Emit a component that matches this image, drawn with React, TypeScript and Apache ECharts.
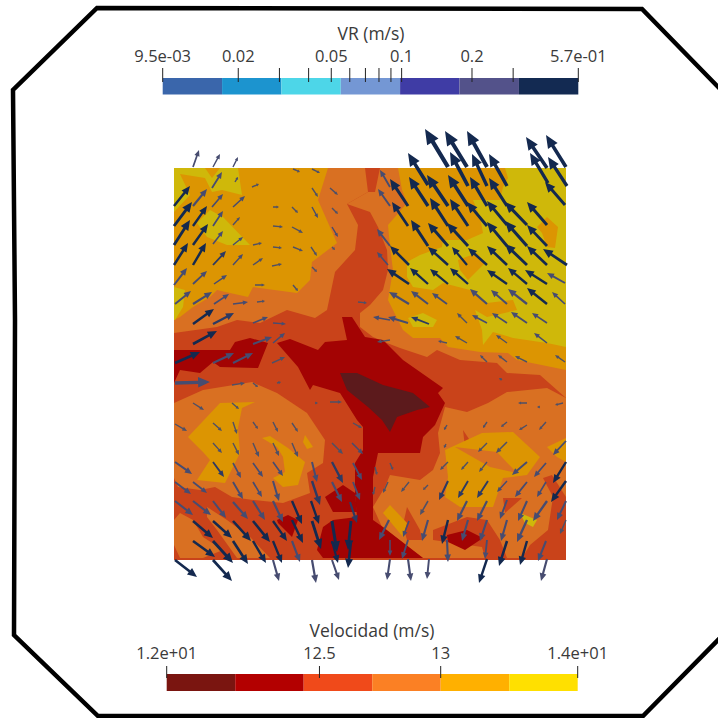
import React, { useEffect, useRef } from "react";
import * as echarts from "echarts";

const FONT = "Open Sans";
const TEXT = "#3a3a3a";

// contour level colours as they look on the plotted field
const levelColors = ["#5c1a1c", "#a30303", "#c9431a", "#d97022", "#dc9502", "#cfb80a"];

// contour regions of the velocity field, painted in order: [level, x,y, x,y, ...]
const contourRegions: number[][] = [
  [2, 174,168, 566,168, 566,560, 174,560],
  // upper left orange
  [3, 174,168, 365,168, 368,192, 347,204, 358,225, 355,250, 335,272, 327,310, 315,318, 287,310, 260,323, 237,320, 217,327, 174,333],
  // upper right orange
  [3, 380,168, 566,168, 566,398, 540,375, 507,373, 497,363, 460,360, 437,350, 427,357, 400,348, 387,343, 373,337, 360,327, 360,313, 370,305, 383,290, 388,270, 387,250, 378,227, 370,212, 347,204, 368,192, 375,192],
  // lower left dome
  [3, 174,403, 203,390, 252,382, 277,393, 307,413, 325,440, 323,463, 307,473, 310,493, 283,503, 253,500, 232,497, 215,487, 200,490, 178,487, 174,478],
  [3, 174,520, 180,513, 193,520, 203,537, 223,550, 203,558, 180,558, 174,545],
  [3, 207,507, 227,520, 250,537, 270,558, 237,558, 217,530, 207,517],
  // lower right dome
  [3, 445,407, 467,412, 488,403, 507,392, 547,388, 566,398, 566,497, 553,497, 548,530, 530,545, 522,558, 423,558, 382,527, 373,507, 385,487, 390,475, 420,480, 433,470, 440,453, 438,433],
  [2, 407,507, 420,530, 422,540, 407,540, 403,525],
  [2, 433,530, 467,517, 487,520, 500,540, 507,558, 485,558, 482,547, 433,540],
  [2, 463,430, 473,445, 465,447],
  [2, 503,498, 522,498, 505,513],
  [2, 543,478, 552,475, 566,497, 553,497],
  // amber
  [4, 174,168, 328,168, 318,200, 337,243, 312,262, 310,280, 297,293, 253,287, 248,297, 230,293, 217,290, 210,297, 193,307, 180,317, 174,320],
  [4, 398,168, 566,168, 566,370, 517,360, 508,353, 480,352, 448,347, 440,338, 413,338, 403,330, 393,310, 388,300, 393,270, 390,247, 388,225, 407,203, 402,190],
  [4, 188,437, 220,403, 255,402, 242,408, 238,428, 240,453, 225,483, 197,480, 210,460, 203,452],
  [4, 262,438, 270,436, 288,448, 305,462, 298,485, 283,487, 273,478, 285,472, 283,457, 277,447],
  [4, 305,435, 313,447, 307,449, 303,442],
  [4, 445,450, 482,433, 513,432, 540,457, 527,475, 503,478, 493,507, 473,507, 460,507, 445,497, 448,477],
  [3, 455,447, 497,452, 517,473, 490,467],
  [4, 547,447, 566,438, 566,462, 557,457],
  [4, 390,505, 383,513, 403,537, 407,523],
  // yellow
  [5, 174,168, 205,168, 212,178, 220,168, 238,168, 242,195, 222,190, 212,192, 205,178, 180,174, 190,195, 174,212],
  [5, 197,223, 210,210, 223,217, 250,245, 227,245, 207,237],
  [5, 174,287, 185,290, 183,307, 175,320, 174,320],
  [5, 505,168, 508,178, 503,187, 500,200, 473,200, 480,217, 483,233, 467,240, 443,240, 442,247, 420,255, 407,262, 407,277, 413,287, 433,290, 443,283, 470,290, 487,303, 513,300, 517,310, 487,317, 475,310, 482,330, 483,345, 493,332, 513,338, 547,343, 566,347, 566,168],
  [5, 408,318, 423,313, 437,320, 433,327, 413,327],
  [5, 520,513, 537,520, 533,527, 525,523],
  // amber islands on yellow
  [4, 537,227, 547,217, 558,227, 555,248, 547,247, 542,233],
  [4, 458,260, 477,253, 485,263, 468,280, 460,270],
  // red
  [1, 174,350, 230,350, 235,342, 250,338, 268,343, 258,368, 220,367, 213,362, 200,373, 180,370, 174,383],
  [1, 277,343, 290,339, 318,350, 325,342, 347,340, 342,317, 352,317, 365,337, 383,340, 403,360, 443,388, 438,393, 445,403, 435,425, 423,437, 420,453, 378,453, 373,477, 373,520, 383,527, 423,558, 323,558, 317,550, 323,527, 333,520, 357,517, 355,495, 355,463, 363,450, 363,427, 357,420, 340,393, 313,385, 310,390, 298,367],
  [1, 343,485, 355,493, 357,512, 333,512, 325,497],
  [1, 277,520, 288,515, 298,520, 292,537, 278,523],
  [1, 447,535, 467,530, 483,538, 465,550, 448,542],
  // darkest core
  [0, 340,373, 357,373, 383,385, 413,393, 430,407, 417,410, 397,417, 390,432, 382,420, 368,407, 347,390],
];

// arrows: tail x, tail y, head x, head y, VR (m/s)
const arrowsUpperLeft: number[][] = [
  [193,167,199,150,.1],[213,167,220,154,.1],[233,167,238,157,.1],[293,169,300,172,.05],[312,169,320,173,.05],
  [212,188,222,172,.15],[235,182,238,177,.05],[174,206,190,186,.3],[193,206,207,189,.15],[212,207,223,194,.15],
  [233,207,245,196,.15],[252,187,259,184,.03],[312,188,318,197,.06],[330,188,338,195,.06],[174,226,192,202,.35],
  [193,226,207,206,.3],[213,226,223,211,.15],[233,225,240,217,.08],[273,207,279,207,.03],[292,207,298,213,.03],
  [312,207,318,218,.1],[332,208,338,214,.04],[174,245,190,220,.35],[193,245,208,224,.3],[213,244,223,231,.12],
  [233,245,243,237,.1],[273,226,283,227,.06],[292,227,303,233,.08],[332,227,338,237,.1],[174,265,188,243,.3],
  [193,265,206,243,.3],[213,265,226,251,.2],[233,265,243,254,.1],[253,245,262,243,.05],[273,247,282,248,.06],
  [293,247,303,251,.07],[311,247,317,256,.08],[332,247,335,250,.03],[174,285,187,268,.15],[193,284,207,271,.15],
  [214,284,227,275,.13],[253,265,263,258,.08],[272,266,282,264,.05],[312,267,317,272,.04],[175,304,191,291,.13],
  [193,304,212,292,.15],[214,304,229,294,.13],[255,285,265,285,.05],[293,285,298,291,.04],[193,324,214,309,.3],
  [213,324,234,313,.17],[233,304,248,302,.12],[257,302,265,301,.07],[358,302,367,303,.08],[193,344,217,331,.3],
  [253,323,268,317,.13],[273,323,286,324,.1],[253,344,272,337,.13],[273,343,285,333,.13],
];
const arrowsUpperRight: number[][] = [
  [448,167,425,129,.55],[467,167,445,131,.55],[487,167,467,131,.55],[547,168,526,137,.5],[566,167,546,135,.5],
  [428,185,408,153,.5],[468,186,450,152,.5],[487,186,472,154,.5],[507,186,489,154,.5],[548,183,530,153,.45],
  [567,186,548,157,.45],[408,206,390,179,.4],[428,206,409,177,.4],[448,206,427,175,.45],[468,206,448,175,.45],
  [487,206,470,177,.45],[507,206,489,178,.45],[565,205,545,182,.4],[390,187,380,170,.1],[390,206,378,189,.1],
  [408,226,392,202,.35],[448,226,430,198,.4],[468,226,450,199,.4],[487,226,467,202,.4],[507,225,487,201,.4],
  [527,225,505,202,.4],[547,225,527,202,.4],[390,246,377,229,.13],[428,246,411,220,.4],[448,246,428,223,.4],
  [468,246,447,223,.4],[507,246,487,222,.4],[527,246,505,221,.4],[547,246,527,225,.4],[388,265,377,252,.13],
  [409,265,390,246,.35],[448,265,428,247,.35],[467,265,452,247,.3],[487,265,468,248,.35],[507,265,487,246,.35],
  [527,265,505,244,.4],[547,265,527,246,.4],[567,265,543,249,.4],[409,284,387,269,.35],[428,284,410,268,.35],
  [448,284,430,269,.3],[468,284,450,268,.3],[507,284,487,270,.3],[527,284,508,268,.3],[547,284,525,270,.3],
  [565,283,547,273,.15],[409,304,389,292,.15],[428,304,411,291,.15],[447,304,432,293,.15],[487,304,470,289,.15],
  [507,304,491,290,.15],[527,304,508,289,.15],[547,304,527,288,.3],[565,304,552,292,.15],[390,320,373,317,.1],
  [408,323,388,317,.15],[429,324,411,317,.2],[467,323,457,313,.08],[487,323,472,315,.13],[507,323,492,313,.13],
  [527,323,511,312,.13],[547,323,532,313,.13],[390,340,377,342,.08],[447,343,438,341,.04],[467,343,455,336,.08],
  [507,343,496,335,.08],[547,343,534,333,.1],
];
const arrowsLowerRight: number[][] = [
  [487,362,480,355,.06],[507,362,498,355,.07],[527,362,515,356,.07],[565,362,555,355,.08],[502,380,499,378,.03],
  [527,403,518,403,.04],[540,407,537,407,.03],[563,403,555,405,.05],[487,422,483,428,.04],[507,422,501,427,.05],
  [527,425,519,430,.05],[546,422,539,430,.06],[447,425,444,430,.04],[446,444,444,448,.03],[487,443,478,452,.08],
  [507,442,496,453,.08],[566,441,553,455,.12],[448,462,440,470,.08],[468,462,461,470,.08],[487,462,479,472,.08],
  [527,462,512,475,.13],[546,463,534,477,.13],[566,462,553,483,.3],[375,467,377,475,.06],[390,463,393,470,.05],
  [409,482,401,492,.06],[428,485,423,490,.04],[448,481,439,500,.2],[468,481,458,498,.17],[488,481,477,498,.17],
  [507,481,497,492,.13],[527,482,515,497,.13],[546,482,537,497,.13],[566,481,551,502,.3],[388,482,383,493,.08],
  [375,487,373,495,.06],[428,501,420,515,.08],[467,501,457,521,.13],[487,501,477,521,.13],[507,500,500,519,.1],
  [527,501,518,521,.13],[547,501,533,521,.13],[566,501,557,520,.1],[389,520,379,540,.15],[409,521,403,537,.1],
  [428,520,422,541,.1],[448,520,442,544,.3],[468,520,462,541,.12],[487,520,480,541,.13],[507,520,501,541,.12],
  [527,520,517,542,.13],[566,520,560,534,.08],[390,540,390,556,.1],[408,540,402,559,.1],[447,540,448,562,.15],
  [487,540,485,559,.12],[507,541,499,566,.35],[527,541,520,565,.35],[546,541,538,561,.13],[390,559,387,580,.12],
  [408,559,411,581,.12],[429,559,427,579,.12],[487,559,479,583,.3],[547,559,541,581,.13],
];
const arrowsLowerLeft: number[][] = [
  [175,363,200,352,.3],[213,363,234,353,.15],[233,363,253,353,.13],[272,363,285,357,.08],[175,383,210,382,.13],
  [232,385,245,383,.05],[277,383,281,382,.03],[253,383,258,387,.03],[193,403,204,410,.07],[232,403,239,409,.06],
  [330,402,342,402,.05],[315,403,318,403,.03],[175,424,187,431,.07],[213,423,222,431,.07],[233,422,237,434,.07],
  [253,422,258,429,.05],[273,422,278,432,.05],[292,423,298,432,.06],[353,423,362,428,.06],[213,443,222,453,.08],
  [233,443,239,455,.08],[253,443,259,457,.08],[273,443,279,456,.08],[292,443,298,457,.08],[332,443,343,454,.08],
  [352,443,363,454,.1],[175,462,192,474,.1],[213,462,224,477,.17],[233,463,241,478,.1],[253,463,263,477,.1],
  [273,462,283,476,.1],[312,462,317,482,.1],[332,462,343,483,.2],[353,463,362,480,.1],[175,482,191,494,.1],
  [193,482,207,493,.1],[233,482,243,499,.12],[253,482,262,497,.1],[273,481,279,501,.12],[312,481,320,505,.2],
  [332,482,342,502,.12],[353,482,360,500,.1],[175,501,193,515,.12],[193,501,211,515,.12],[213,501,226,518,.13],
  [233,502,248,519,.13],[253,501,265,520,.13],[273,501,283,522,.13],[292,501,302,524,.3],[311,501,319,524,.3],
  [350,502,357,523,.25],[193,521,213,538,.3],[213,521,232,538,.3],[233,521,251,541,.3],[253,521,270,542,.3],
  [273,521,287,541,.3],[292,520,303,543,.3],[312,521,321,549,.35],[332,521,337,552,.4],[351,521,348,550,.35],
  [193,541,215,557,.3],[213,541,233,563,.35],[233,541,248,564,.35],[253,541,266,563,.35],[273,541,282,563,.35],
  [292,541,300,562,.13],[332,541,338,563,.3],[351,541,348,568,.4],[175,560,197,577,.3],[213,560,232,581,.35],
  [273,560,279,581,.13],[312,560,316,583,.13],[332,560,339,580,.13],
];
const arrows = [...arrowsUpperLeft, ...arrowsUpperRight, ...arrowsLowerRight, ...arrowsLowerLeft];

// VR colour bar
const vrBreaks = [0.0095, 0.01705, 0.0306, 0.0549, 0.0985, 0.1768, 0.3176, 0.57];
const vrColors = ["#3a66ab", "#1c94cf", "#4dd6e8", "#7497d4", "#3f3ca5", "#53528a", "#132a52"];
const vrTicks = [0.0095, 0.02, 0.03, 0.04, 0.05, 0.06, 0.07, 0.08, 0.09, 0.1, 0.2, 0.3, 0.57];
const vrLabelValues = [0.0095, 0.02, 0.05, 0.1, 0.2, 0.57];
const vrLabelTexts = ["9.5e-03", "0.02", "0.05", "0.1", "0.2", "5.7e-01"];

// Velocidad colour bar
const velBreaks = [11.87, 12.1525, 12.435, 12.7175, 13.0, 13.2825, 13.565];
const velColors = ["#7a1510", "#b30000", "#f04a1a", "#fb8024", "#ffb000", "#ffe000"];
const velTicks = [11.87, 12.5, 13, 13.565];
const velLabelTexts = ["1.2e+01", "12.5", "13", "1.4e+01"];

function nearestLabel(v: number, values: number[], texts: string[]) {
  let best = 0;
  values.forEach((c, i) => {
    if (Math.abs(Math.log(c / v)) < Math.abs(Math.log(values[best] / v))) best = i;
  });
  return texts[best];
}

function arrowColor(v: number) {
  if (v >= 0.28) return "#14294f";
  if (v >= 0.16) return "#2d3a62";
  if (v >= 0.1) return "#474c70";
  return "#4f5066";
}

function renderContour(params: any, api: any) {
  const region = contourRegions[params.dataIndex];
  const pts: number[][] = [];
  for (let i = 1; i < region.length; i += 2) pts.push(api.coord([region[i], region[i + 1]]));
  return { type: "polygon", shape: { points: pts }, style: { fill: levelColors[region[0]] } };
}

function renderArrow(params: any, api: any) {
  const a = api.coord([api.value(0), api.value(1)]);
  const b = api.coord([api.value(2), api.value(3)]);
  const v = api.value(4);
  const dx = b[0] - a[0];
  const dy = b[1] - a[1];
  const len = Math.hypot(dx, dy) || 1;
  const ux = dx / len;
  const uy = dy / len;
  const nx = -uy;
  const ny = ux;
  const shaft = Math.max(0.7, len * 0.048);
  const headW = Math.max(1.6, len * 0.15);
  const headL = Math.max(2.5, len * 0.34);
  const nk = [a[0] + ux * (len - headL), a[1] + uy * (len - headL)];
  const points = [
    [a[0] + nx * shaft, a[1] + ny * shaft],
    [nk[0] + nx * shaft, nk[1] + ny * shaft],
    [nk[0] + nx * headW, nk[1] + ny * headW],
    b,
    [nk[0] - nx * headW, nk[1] - ny * headW],
    [nk[0] - nx * shaft, nk[1] - ny * shaft],
    [a[0] - nx * shaft, a[1] - ny * shaft],
  ];
  return { type: "polygon", shape: { points }, style: { fill: arrowColor(v) } };
}

function renderBarSegment(colors: string[]) {
  return (params: any, api: any) => {
    const p0 = api.coord([api.value(0), 0]);
    const p1 = api.coord([api.value(1), 1]);
    return {
      type: "rect",
      shape: { x: p0[0], y: p1[1], width: p1[0] - p0[0], height: p0[1] - p1[1] },
      style: { fill: colors[params.dataIndex] },
    };
  };
}

function renderBarTick(up: number, down: number) {
  return (params: any, api: any) => {
    const p = api.coord([api.value(0), 1]);
    return {
      type: "line",
      shape: { x1: p[0], y1: p[1] - up, x2: p[0], y2: p[1] + down },
      style: { stroke: "#222222", lineWidth: 1 },
    };
  };
}

export default function App() {
  const ref = useRef<HTMLDivElement>(null);
  useEffect(() => {
    const chart = echarts.init(ref.current!, null, { renderer: "svg" });
    const labelStyle = { fontFamily: FONT, fontSize: 16.5, color: TEXT };
    const titleStyle = { fontFamily: FONT, fontSize: 17.5, color: TEXT, fontWeight: "normal" };
    chart.setOption({
      animation: false,
      backgroundColor: "#ffffff",
      title: [
        { text: "VR (m/s)", left: 371, top: 24, textAlign: "center", padding: 0, textStyle: titleStyle },
        { text: "Velocidad (m/s)", left: 372, top: 621, textAlign: "center", padding: 0, textStyle: titleStyle },
      ],
      grid: [
        { left: 174, top: 168, width: 392, height: 392 },
        { left: 162.7, top: 78, width: 415.6, height: 16.4 },
        { left: 166.7, top: 674, width: 411, height: 17 },
      ],
      xAxis: [
        { gridIndex: 0, type: "value", min: 174, max: 566, show: false },
        {
          gridIndex: 1, type: "log", min: 0.0095, max: 0.57, position: "top",
          splitLine: { show: false }, axisLine: { show: false }, minorTick: { show: false },
          axisTick: { show: false },
          axisLabel: {
            show: true, margin: 14, customValues: vrLabelValues, ...labelStyle, hideOverlap: false,
            showMinLabel: true, showMaxLabel: true,
            formatter: (v: number) => nearestLabel(v, vrLabelValues, vrLabelTexts),
          },
        },
        {
          gridIndex: 2, type: "value", min: 11.87, max: 13.565, position: "top",
          splitLine: { show: false }, axisLine: { show: false },
          axisTick: { show: false },
          axisLabel: {
            show: true, margin: 13, customValues: velTicks, ...labelStyle, hideOverlap: false,
            showMinLabel: true, showMaxLabel: true,
            formatter: (v: number) => nearestLabel(v, velTicks, velLabelTexts),
          },
        },
      ],
      yAxis: [
        { gridIndex: 0, type: "value", min: 168, max: 560, inverse: true, show: false },
        { gridIndex: 1, type: "value", min: 0, max: 1, show: false },
        { gridIndex: 2, type: "value", min: 0, max: 1, show: false },
      ],
      series: [
        {
          type: "custom", xAxisIndex: 0, yAxisIndex: 0, clip: false, silent: true, z: 2,
          data: contourRegions.map((_, i) => [i]),
          renderItem: renderContour,
        },
        {
          type: "custom", xAxisIndex: 0, yAxisIndex: 0, clip: false, silent: true, z: 3,
          data: arrows, encode: { x: [0, 2], y: [1, 3] },
          renderItem: renderArrow,
        },
        {
          type: "custom", xAxisIndex: 1, yAxisIndex: 1, clip: false, silent: true, z: 2,
          data: vrColors.map((_, i) => [vrBreaks[i], vrBreaks[i + 1]]), encode: { x: [0, 1] },
          renderItem: renderBarSegment(vrColors),
        },
        {
          type: "custom", xAxisIndex: 1, yAxisIndex: 1, clip: false, silent: true, z: 4,
          data: vrTicks.map((v) => [v]), encode: { x: 0 },
          renderItem: renderBarTick(10, 4),
        },
        {
          type: "custom", xAxisIndex: 2, yAxisIndex: 2, clip: false, silent: true, z: 2,
          data: velColors.map((_, i) => [velBreaks[i], velBreaks[i + 1]]), encode: { x: [0, 1] },
          renderItem: renderBarSegment(velColors),
        },
        {
          type: "custom", xAxisIndex: 2, yAxisIndex: 2, clip: false, silent: true, z: 4,
          data: velTicks.map((v) => [v]), encode: { x: 0 },
          renderItem: renderBarTick(8, 4),
        },
      ],
      graphic: [
        {
          type: "polyline",
          silent: true,
          shape: {
            points: [[722,91],[642,9],[97,8],[13,90],[15,320],[14,635],[98,716],[643,716],[722,636]],
          },
          style: { stroke: "#000000", lineWidth: 4.5, fill: "none", lineJoin: "miter" },
        },
      ],
    });
    return () => chart.dispose();
  }, []);
  return <div ref={ref} style={{ position: "fixed", left: 0, top: 0, width: 718, height: 718 }} />;
}
